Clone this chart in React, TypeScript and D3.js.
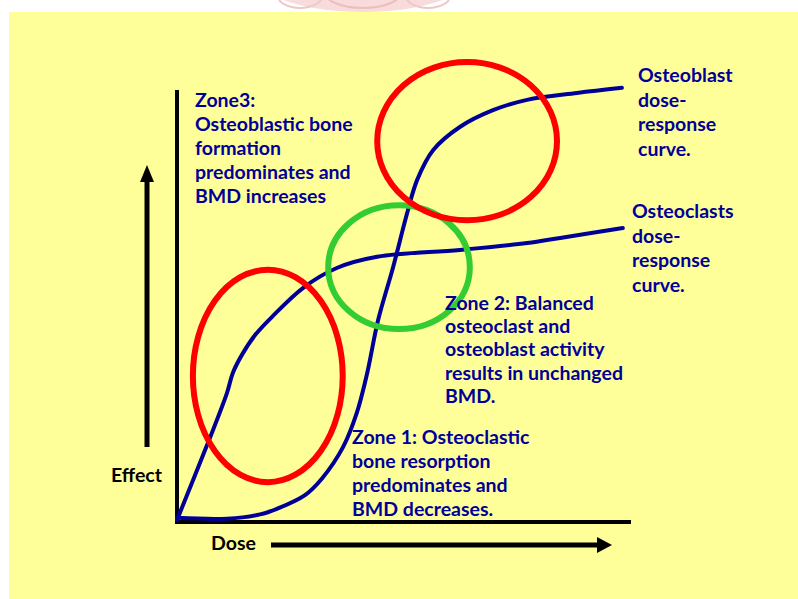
import React from 'react';
import * as d3 from 'd3';

// dose / effect (dose 0-10, effect 0-100)
const clastDose = [0, 0.68, 1.1, 1.23, 1.43, 1.72, 2.09, 2.78, 3.52, 4.41, 6.23, 7.71, 8.44, 9.82];
const clastEffect = [0, 17.9, 29.5, 34.2, 38.4, 43.0, 47.2, 54.0, 58.6, 61.2, 62.8, 64.4, 65.6, 67.9];

const blastDose = [0, 1.1, 1.83, 2.2, 2.82, 3.19, 3.66, 3.96, 4.19, 4.43, 4.76, 5.07, 5.29, 5.64, 6.23, 6.96, 7.71, 8.81, 9.8];
const blastEffect = [0.5, 0.3, 1.3, 2.6, 5.8, 9.6, 17.0, 24.9, 34.2, 46.5, 58.8, 71.4, 79.1, 86.0, 91.4, 95.3, 97.7, 99.3, 100.5];

// zones: centre dose, centre effect, half width (dose), half height (effect)
const zoneNames = ['zone1', 'zone2', 'zone3'];
const zoneCx = [2.0, 4.89, 6.39];
const zoneCy = [33.5, 58.8, 88.1];
const zoneRx = [1.65, 1.56, 1.98];
const zoneRy = [24.7, 14.4, 18.4];
const zoneColors = ['#ff0000', '#33cc33', '#ff0000'];

const zone3Text = ['Zone3:', 'Osteoblastic bone', 'formation', 'predominates and', 'BMD increases'];
const zone2Text = ['Zone 2: Balanced', 'osteoclast and', 'osteoblast activity', 'results in unchanged', 'BMD.'];
const zone1Text = ['Zone 1: Osteoclastic', 'bone resorption', 'predominates and', 'BMD decreases.'];
const blastLabel = ['Osteoblast', 'dose-', 'response', 'curve.'];
const clastLabel = ['Osteoclasts', 'dose-', 'response', 'curve.'];

const W = 798;
const H = 599;
const navy = '#000099';
const font = '"Comic Sans MS", Lato, sans-serif';
const fs = 19.5;

function TextBlock({ lines, x, y, dy }: { lines: string[]; x: number; y: number; dy: number }) {
  return (
    <text x={x} y={y} fill={navy} fontFamily={font} fontWeight={700} fontSize={fs}>
      {lines.map((l, i) => (
        <tspan key={i} x={x} y={y + i * dy}>{l}</tspan>
      ))}
    </text>
  );
}

export default function App() {
  const x = d3.scaleLinear().domain([0, 10]).range([177, 631]);
  const y = d3.scaleLinear().domain([0, 100]).range([520, 90]);

  const line = d3.line<[number, number]>()
    .x(d => x(d[0]))
    .y(d => y(d[1]))
    .curve(d3.curveCatmullRom.alpha(0.5));

  const clast = clastDose.map((v, i) => [v, clastEffect[i]] as [number, number]);
  const blast = blastDose.map((v, i) => [v, blastEffect[i]] as [number, number]);

  return (
    <svg width={W} height={H} style={{ position: 'absolute', left: 0, top: 0 }}>
      <defs>
        <clipPath id="top-clip">
          <rect x={0} y={0} width={W} height={12} />
        </clipPath>
      </defs>
      <rect x={0} y={0} width={W} height={H} fill="#fff" />
      {/* faint logo at top */}
      <g clipPath="url(#top-clip)" opacity={0.5}>
        <ellipse cx={363} cy={-22} rx={104} ry={34} fill="#f2b8b8" />
        <ellipse cx={363} cy={-10} rx={40} ry={18} fill="none" stroke="#d98080" strokeWidth={2} />
        <ellipse cx={300} cy={-4} rx={22} ry={12} fill="none" stroke="#e09090" strokeWidth={2} />
        <ellipse cx={428} cy={-4} rx={22} ry={12} fill="none" stroke="#e09090" strokeWidth={2} />
      </g>
      <rect x={9} y={12} width={W - 9} height={H - 12} fill="#ffff99" />

      {/* axes */}
      <line x1={x(0)} y1={90} x2={x(0)} y2={y(0) + 3} stroke="#000" strokeWidth={4} />
      <line x1={x(0) - 2} y1={y(0) + 2} x2={x(10)} y2={y(0) + 2} stroke="#000" strokeWidth={4} />

      {/* effect arrow */}
      <line x1={147} y1={447} x2={147} y2={180} stroke="#000" strokeWidth={5} />
      <path d="M147,165 L140,182 L154,182 Z" fill="#000" />
      {/* dose arrow */}
      <line x1={271} y1={545} x2={598} y2={545} stroke="#000" strokeWidth={5} />
      <path d="M612,545 L597,537 L597,553 Z" fill="#000" />

      <text x={111} y={482} fontFamily={font} fontWeight={700} fontSize={fs} fill="#000">Effect</text>
      <text x={211} y={550} fontFamily={font} fontWeight={700} fontSize={fs} fill="#000">Dose</text>

      {/* curves */}
      <path d={line(clast) ?? ''} fill="none" stroke={navy} strokeWidth={4} strokeLinecap="round" />
      <path d={line(blast) ?? ''} fill="none" stroke={navy} strokeWidth={4} strokeLinecap="round" />

      {/* zones */}
      {zoneNames.map((n, i) => (
        <ellipse
          key={n}
          cx={x(zoneCx[i])}
          cy={y(zoneCy[i])}
          rx={x(zoneRx[i]) - x(0)}
          ry={y(0) - y(zoneRy[i])}
          fill="none"
          stroke={zoneColors[i]}
          strokeWidth={6}
        />
      ))}

      <TextBlock lines={zone3Text} x={195} y={107} dy={24} />
      <TextBlock lines={zone2Text} x={445} y={310} dy={23.2} />
      <TextBlock lines={zone1Text} x={352} y={444} dy={24} />
      <TextBlock lines={blastLabel} x={638} y={82} dy={24.5} />
      <TextBlock lines={clastLabel} x={632} y={218} dy={24.5} />
    </svg>
  );
}
